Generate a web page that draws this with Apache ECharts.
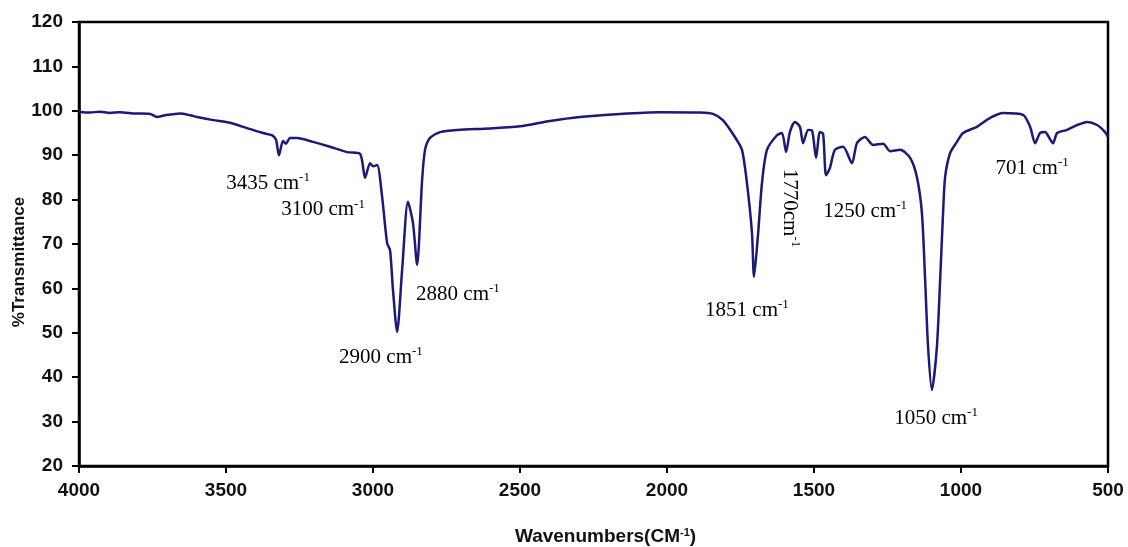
<!DOCTYPE html>
<html>
<head>
<meta charset="utf-8">
<script src="https://cdn.jsdelivr.net/npm/echarts@6/dist/echarts.min.js"></script>
<style>
  html, body { margin: 0; padding: 0; background: #fff; }
  #chart { width: 1128px; height: 547px; }
</style>
</head>
<body>
<div id="chart"></div>
<script>
// FTIR spectrum: wavenumber (cm-1) and % transmittance
const wavenumbers = [
  4000, 3963, 3929, 3895, 3861, 3810, 3758, 3735, 3707, 3656,
  3622, 3599, 3544, 3486, 3429, 3374, 3344, 3330, 3320, 3306,
  3296, 3282, 3258, 3204, 3146, 3088, 3044, 3027, 3010, 3000,
  2986, 2969, 2952, 2942, 2932, 2918, 2901, 2881, 2864, 2850,
  2833, 2823, 2806, 2772, 2714, 2602, 2500, 2398, 2296, 2160,
  2024, 1888, 1844, 1810, 1769, 1745, 1728, 1711, 1704, 1690,
  1677, 1660, 1626, 1609, 1595, 1582, 1565, 1548, 1537, 1520,
  1507, 1493, 1480, 1469, 1459, 1446, 1429, 1401, 1371, 1354,
  1327, 1299, 1265, 1241, 1207, 1173, 1150, 1133, 1122, 1112,
  1099, 1082, 1071, 1061, 1054, 1037, 1014, 993, 946, 901,
  857, 789, 765, 748, 731, 714, 704, 687, 673, 639,
  605, 571, 537, 510, 500
];
const transmittance = [
  99.8, 99.6, 99.8, 99.5, 99.7, 99.4, 99.3, 98.6, 99.0, 99.4,
  99.0, 98.6, 97.9, 97.3, 96.1, 95.0, 94.5, 93.5, 90.0, 93.2,
  92.6, 93.9, 93.9, 93.0, 91.9, 90.7, 90.3, 84.9, 88.2, 87.5,
  87.8, 80.6, 70.2, 68.6, 59.6, 50.2, 64.1, 79.5, 74.7, 65.3,
  84.4, 91.2, 93.9, 95.2, 95.7, 96.0, 96.5, 97.7, 98.6, 99.3,
  99.7, 99.6, 99.3, 97.9, 94.1, 91.2, 83.7, 72.5, 62.6, 72.5,
  83.7, 91.2, 94.5, 95.0, 90.7, 95.2, 97.5, 96.4, 92.7, 95.7,
  95.6, 89.4, 95.2, 94.8, 85.5, 87.1, 91.2, 91.9, 88.2, 92.7,
  94.1, 92.3, 92.6, 90.9, 91.2, 89.4, 85.1, 77.0, 61.9, 46.8,
  37.1, 46.8, 61.9, 77.0, 85.1, 90.5, 93.0, 95.0, 96.4, 98.4,
  99.5, 99.1, 96.4, 92.7, 95.0, 95.2, 94.4, 92.7, 95.0, 95.7,
  96.8, 97.5, 96.8, 95.2, 94.1
];

// Axis ranges and ticks
const xTicks = [500, 1000, 1500, 2000, 2500, 3000, 3500, 4000];
const yTicks = [20, 30, 40, 50, 60, 70, 80, 90, 100, 110, 120];

// Band labels: number, anchor wavenumber, anchor %T, spacing and orientation
const bandLabels = ['3435', '3100', '2900', '2880', '1851', '1770', '1250', '1050', '701'];
const bandLabelX = [3357, 3170, 2973, 2711, 1728, 1582, 1326, 1085, 758];
const bandLabelY = [83.7, 77.7, 44.5, 58.7, 55.1, 78.1, 77.4, 30.8, 87.1];
const bandLabelSpace = [true, true, true, true, true, false, true, true, true];
const bandLabelRotated = [false, false, false, false, false, true, false, false, false];

const chart = echarts.init(document.getElementById('chart'), null, { renderer: 'canvas' });

const points = wavenumbers.map((w, i) => [w, transmittance[i]]);
const axisFont = 'Liberation Sans, Arial, sans-serif';
const serif = 'Liberation Serif, Times New Roman, serif';

chart.setOption({
  animation: false,
  backgroundColor: '#ffffff',
  grid: {
    left: 79, right: 20, top: 22, bottom: 81,
    outerBoundsMode: 'none',
    containLabel: false,
    show: true, borderColor: '#000', borderWidth: 2.5, backgroundColor: 'transparent'
  },
  xAxis: {
    type: 'value',
    inverse: true,
    min: xTicks[0],
    max: xTicks[xTicks.length - 1],
    interval: 500,
    name: '{a|Wavenumbers(CM}{s|-1}{a|)}',
    nameLocation: 'middle',
    nameGap: 61,
    nameTextStyle: {
      padding: [0, 0, 0, 24],
      rich: {
        a: { fontFamily: axisFont, fontWeight: 'bold', fontSize: 19, color: '#111' },
        s: { fontFamily: axisFont, fontWeight: 'bold', fontSize: 11, color: '#111', verticalAlign: 'top', padding: [0, 0, 7, 0] }
      }
    },
    axisLine: { lineStyle: { color: '#000', width: 2.5 } },
    axisTick: { show: true, length: 7, lineStyle: { color: '#000', width: 2 } },
    axisLabel: {
      margin: 15, fontFamily: axisFont, fontWeight: 'bold', fontSize: 19, color: '#111',
      formatter: v => String(v)
    },
    splitLine: { show: false }
  },
  yAxis: {
    type: 'value',
    min: yTicks[0],
    max: yTicks[yTicks.length - 1],
    interval: 10,
    name: '%Transmittance',
    nameLocation: 'middle',
    nameMoveOverlap: false,
    nameGap: 51,
    nameTextStyle: {
      fontFamily: axisFont, fontWeight: 'bold', fontSize: 17, color: '#111',
      padding: [0, 36, 0, 0]
    },
    axisLine: { show: true, lineStyle: { color: '#000', width: 2.5 } },
    axisTick: { show: true, length: 7, lineStyle: { color: '#000', width: 2 } },
    axisLabel: {
      margin: 16, fontFamily: axisFont, fontWeight: 'bold', fontSize: 19, color: '#111',
      formatter: v => String(v)
    },
    splitLine: { show: false }
  },
  series: [{
    type: 'line',
    data: points,
    showSymbol: false,
    smooth: 0.25,
    lineStyle: { color: '#1b1a78', width: 2.5 },
    z: 3
  }]
});

// Place the band annotations in data space
const graphics = bandLabels.map((t, i) => {
  const p = chart.convertToPixel({ gridIndex: 0 }, [bandLabelX[i], bandLabelY[i]]);
  const txt = '{n|' + t + (bandLabelSpace[i] ? ' ' : '') + 'cm}{s|-1}';
  return {
    type: 'text',
    x: p[0], y: p[1],
    rotation: bandLabelRotated[i] ? -Math.PI / 2 : 0,
    z: 10,
    style: {
      text: txt,
      align: 'center',
      verticalAlign: 'middle',
      rich: {
        n: { fontFamily: serif, fontSize: 21, fill: '#000', lineHeight: 24 },
        s: { fontFamily: serif, fontSize: 13, fill: '#000', verticalAlign: 'top', lineHeight: 24, padding: [0, 0, 10, 0] }
      }
    }
  };
});
chart.setOption({ graphic: graphics });
</script>
</body>
</html>
